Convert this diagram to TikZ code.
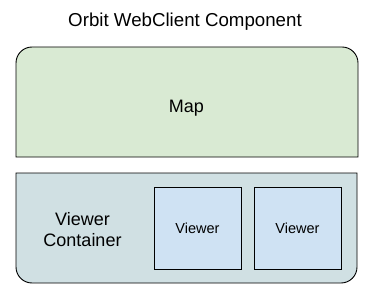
\documentclass[tikz,border=0pt]{standalone}
\usepackage{fontspec}
\setmainfont{Liberation Sans}
\definecolor{mapgreen}{HTML}{D9EAD3}
\definecolor{contcyan}{HTML}{D0E0E3}
\definecolor{viewblue}{HTML}{CFE2F3}
\begin{document}
\begin{tikzpicture}[x=1pt,y=1pt,
  outline/.style={draw=black,line width=0.9pt},
  bigtext/.style={font=\fontsize{18}{21}\selectfont,inner sep=0pt},
  viewerbox/.style={outline,fill=viewblue,minimum width=87pt,minimum height=82pt,inner sep=0pt,font=\fontsize{14.5}{16}\selectfont}]
\useasboundingbox (0,0) rectangle (374,300);
% Map box: rounded top corners
\path[outline,fill=mapgreen] (16,143) -- (16,237) arc[start angle=180,end angle=90,radius=16] -- (342,253) arc[start angle=90,end angle=0,radius=16] -- (358,143) -- cycle;
% Viewer container: rounded bottom corners
\path[outline,fill=contcyan] (16,127) -- (16,33) arc[start angle=180,end angle=270,radius=16] -- (341,17) arc[start angle=270,end angle=360,radius=16] -- (357,127) -- cycle;
\node[font=\fontsize{18.7}{21}\selectfont,inner sep=0pt,anchor=base] (title) at (185,273) {Orbit WebClient Component};
\node[bigtext,anchor=base] (map) at (186.5,187) {Map};
\node[bigtext,anchor=base] (vc1) at (82.5,75) {Viewer};
\node[bigtext,anchor=base] (vc2) at (82.5,54) {Container};
\node[viewerbox] (v1) at (197.5,72) {Viewer};
\node[viewerbox] (v2) at (297.5,72) {Viewer};
\end{tikzpicture}
\end{document}
